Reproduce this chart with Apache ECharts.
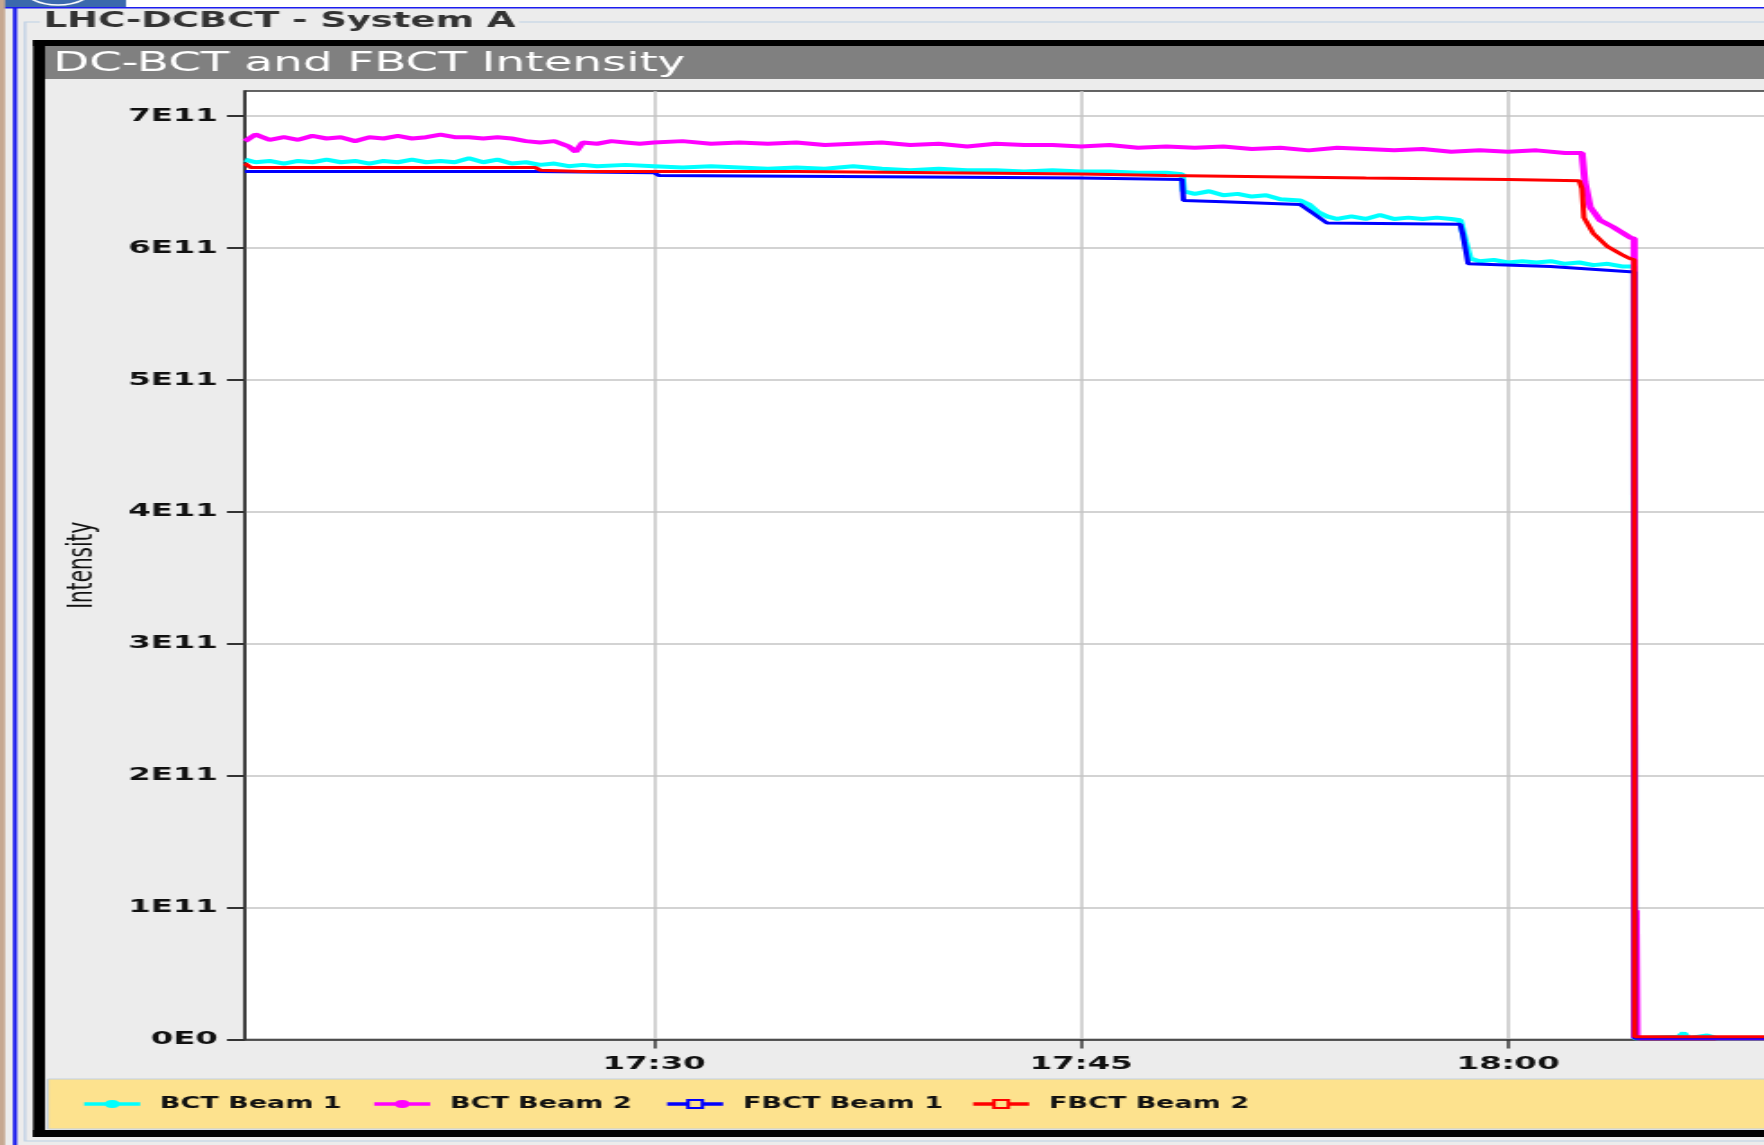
<!DOCTYPE html>
<html>
<head>
<meta charset="utf-8">
<title>LHC-DCBCT - System A</title>
<script src="https://cdn.jsdelivr.net/npm/echarts@6/dist/echarts.min.js"></script>
<style>
  html, body { margin: 0; padding: 0; width: 1764px; height: 1145px; overflow: hidden; background: #ececec; }
  /* the screenshot is stretched sideways, so draw narrow and stretch the div */
  #main { width: 1100px; height: 1145px; transform: scaleX(1.8); transform-origin: 0 0; }
</style>
</head>
<body>
<div id="main"></div>
<script>
var SX = 1.8;
function px(x) { return x / SX; }   // screen x -> chart x

var seriesNames = ['BCT Beam 1', 'BCT Beam 2', 'FBCT Beam 1', 'FBCT Beam 2'];
var seriesColors = ['#00ffff', '#ff00ff', '#0000ff', '#ff0000'];
var yTicks = [0, 1, 2, 3, 4, 5, 6, 7];          // x 1E11
var xTicks = ['17:30', '17:45', '18:00'];
var xStart = '17:15:38';
var xEnd = '18:15:00';

// intensities in units of 1E11
var bctBeam1 = [
  ['17:15:38', 6.67], ['17:16:00', 6.65], ['17:16:30', 6.66], ['17:17:00', 6.64], ['17:17:30', 6.66],
  ['17:18:00', 6.65], ['17:18:30', 6.67], ['17:19:00', 6.65], ['17:19:30', 6.66], ['17:20:00', 6.64],
  ['17:20:30', 6.66], ['17:21:00', 6.65], ['17:21:30', 6.67], ['17:22:00', 6.65], ['17:22:30', 6.66],
  ['17:23:00', 6.65], ['17:23:30', 6.68], ['17:24:00', 6.65], ['17:24:30', 6.67], ['17:25:00', 6.64],
  ['17:25:30', 6.65], ['17:26:00', 6.63], ['17:26:30', 6.64], ['17:27:00', 6.62], ['17:27:30', 6.63],
  ['17:28:00', 6.62], ['17:29:00', 6.63], ['17:30:00', 6.62], ['17:31:00', 6.61], ['17:32:00', 6.62],
  ['17:33:00', 6.61], ['17:34:00', 6.60], ['17:35:00', 6.61], ['17:36:00', 6.60], ['17:37:00', 6.62],
  ['17:38:00', 6.60], ['17:39:00', 6.59], ['17:40:00', 6.60], ['17:41:00', 6.59], ['17:42:00', 6.59],
  ['17:43:00', 6.58], ['17:44:00', 6.59], ['17:45:00', 6.58], ['17:46:00', 6.58], ['17:47:00', 6.57],
  ['17:48:00', 6.57], ['17:48:33', 6.56], ['17:48:36', 6.43], ['17:49:00', 6.41], ['17:49:30', 6.43],
  ['17:50:00', 6.40], ['17:50:30', 6.41], ['17:51:00', 6.39], ['17:51:30', 6.40], ['17:52:00', 6.37],
  ['17:52:42', 6.36], ['17:53:00', 6.33], ['17:53:20', 6.27], ['17:53:38', 6.24], ['17:54:00', 6.22],
  ['17:54:30', 6.24], ['17:55:00', 6.22], ['17:55:30', 6.25], ['17:56:00', 6.22], ['17:56:30', 6.23],
  ['17:57:00', 6.22], ['17:57:30', 6.23], ['17:58:00', 6.22], ['17:58:19', 6.21], ['17:58:30', 6.05],
  ['17:58:40', 5.92], ['17:59:00', 5.90], ['17:59:30', 5.91], ['18:00:00', 5.89], ['18:00:30', 5.90],
  ['18:01:00', 5.89], ['18:01:30', 5.90], ['18:02:00', 5.88], ['18:02:30', 5.89], ['18:03:00', 5.87],
  ['18:03:30', 5.88], ['18:04:00', 5.86], ['18:04:26', 5.86], ['18:04:27', 0.01], ['18:06:00', 0.02],
  ['18:06:10', 0.05], ['18:06:20', 0.01], ['18:07:00', 0.03], ['18:07:20', 0.01], ['18:15:00', 0.01]
];
var bctBeam2 = [
  ['17:15:38', 6.81], ['17:16:00', 6.86], ['17:16:30', 6.82], ['17:17:00', 6.84], ['17:17:30', 6.82],
  ['17:18:00', 6.85], ['17:18:30', 6.83], ['17:19:00', 6.84], ['17:19:30', 6.81], ['17:20:00', 6.84],
  ['17:20:30', 6.83], ['17:21:00', 6.85], ['17:21:30', 6.83], ['17:22:00', 6.84], ['17:22:30', 6.86],
  ['17:23:00', 6.84], ['17:23:30', 6.84], ['17:24:00', 6.83], ['17:24:30', 6.84], ['17:25:00', 6.83],
  ['17:25:30', 6.81], ['17:26:00', 6.80], ['17:26:30', 6.81], ['17:27:00', 6.77], ['17:27:15', 6.73],
  ['17:27:30', 6.80], ['17:28:00', 6.79], ['17:28:30', 6.81], ['17:29:00', 6.80], ['17:29:30', 6.79],
  ['17:30:00', 6.80], ['17:31:00', 6.81], ['17:32:00', 6.79], ['17:33:00', 6.80], ['17:34:00', 6.79],
  ['17:35:00', 6.80], ['17:36:00', 6.78], ['17:37:00', 6.79], ['17:38:00', 6.80], ['17:39:00', 6.78],
  ['17:40:00', 6.79], ['17:41:00', 6.77], ['17:42:00', 6.79], ['17:43:00', 6.78], ['17:44:00', 6.78],
  ['17:45:00', 6.77], ['17:46:00', 6.78], ['17:47:00', 6.76], ['17:48:00', 6.77], ['17:49:00', 6.76],
  ['17:50:00', 6.77], ['17:51:00', 6.75], ['17:52:00', 6.76], ['17:53:00', 6.74], ['17:54:00', 6.76],
  ['17:55:00', 6.75], ['17:56:00', 6.74], ['17:57:00', 6.75], ['17:58:00', 6.73], ['17:59:00', 6.74],
  ['18:00:00', 6.73], ['18:01:00', 6.74], ['18:02:00', 6.72], ['18:02:36', 6.72], ['18:02:42', 6.50],
  ['18:02:53', 6.31], ['18:03:14', 6.21], ['18:03:41', 6.16], ['18:04:17', 6.08], ['18:04:26', 6.07],
  ['18:04:27', 0.01], ['18:04:30', 0.98], ['18:04:32', 0.01], ['18:15:00', 0.01]
];
var fbctBeam1 = [
  ['17:15:38', 6.58], ['17:25:50', 6.58], ['17:25:55', 6.57], ['17:30:00', 6.57], ['17:30:10', 6.55],
  ['17:38:00', 6.54], ['17:45:00', 6.53], ['17:48:33', 6.52], ['17:48:36', 6.36], ['17:50:00', 6.35],
  ['17:52:42', 6.33], ['17:53:10', 6.26], ['17:53:38', 6.19], ['17:58:19', 6.18], ['17:58:25', 6.10],
  ['17:58:36', 5.88], ['18:01:30', 5.86], ['18:04:17', 5.82], ['18:04:26', 5.82], ['18:04:27', 0.01],
  ['18:15:00', 0.01]
];
var fbctBeam2 = [
  ['17:15:38', 6.64], ['17:15:50', 6.61], ['17:25:50', 6.61], ['17:26:00', 6.59], ['17:27:30', 6.58],
  ['17:35:00', 6.58], ['17:40:00', 6.57], ['17:45:00', 6.56], ['17:48:00', 6.55], ['17:55:00', 6.53],
  ['18:00:00', 6.52], ['18:02:30', 6.51], ['18:02:36', 6.45], ['18:02:40', 6.23], ['18:03:00', 6.11],
  ['18:03:30', 6.01], ['18:04:00', 5.95], ['18:04:17', 5.92], ['18:04:26', 5.91], ['18:04:27', 0.02],
  ['18:15:00', 0.02]
];

function toMin(t) {
  var p = t.split(':');
  return +p[0] * 60 + +p[1] + (p[2] ? +p[2] / 60 : 0);
}
function fmtMin(v) {
  var h = Math.floor(v / 60), m = Math.round(v - h * 60);
  return h + ':' + (m < 10 ? '0' : '') + m;
}

var allData = [bctBeam1, bctBeam2, fbctBeam1, fbctBeam2];
var symbols = ['circle', 'circle', 'rect', 'rect'];
var lineWidths = [4, 4, 3, 3];
var legendLeft = [81, 371, 664, 970];   // screen px

var frame = [
  // strip of the window above
  { type: 'rect', shape: { x: 0, y: 0, width: 1100, height: 7 }, style: { fill: '#ffffff' } },
  { type: 'rect', shape: { x: 0, y: 0, width: px(126), height: 7 }, style: { fill: '#3b69ad' } },
  { type: 'circle', shape: { cx: px(58), cy: -16, r: 21 }, style: { fill: 'none', stroke: '#ffffff', lineWidth: 1.5 } },
  { type: 'rect', shape: { x: 0, y: 7, width: 1100, height: 1.5 }, style: { fill: '#1c1cf0' } },
  // left window edge
  { type: 'rect', shape: { x: 0, y: 0, width: px(5), height: 1145 }, style: { fill: '#c6a891' } },
  { type: 'rect', shape: { x: px(13), y: 8, width: px(4), height: 1137 }, style: { fill: '#1a1aee' } },
  // titled border
  { type: 'rect', shape: { x: px(25), y: 22, width: 1200, height: 1119 }, style: { fill: 'none', stroke: '#bccfe4', lineWidth: 1.2 } },
  { type: 'text', x: px(40), y: 22, style: { text: 'LHC-DCBCT - System A', fontFamily: 'DejaVu Sans', fontWeight: 'bold', fontSize: 20.5, fill: '#333333', backgroundColor: '#ececec', padding: [0, 2], verticalAlign: 'middle' } },
  // black panel with grey title bar
  { type: 'rect', shape: { x: px(33), y: 40, width: 1200, height: 6 }, style: { fill: '#000000' } },
  { type: 'rect', shape: { x: px(33), y: 40, width: px(12), height: 1097 }, style: { fill: '#000000' } },
  { type: 'rect', shape: { x: px(33), y: 1130, width: 1200, height: 7 }, style: { fill: '#000000' } },
  { type: 'rect', shape: { x: px(45), y: 46, width: 1200, height: 33 }, style: { fill: '#808080' } },
  { type: 'text', x: px(53), y: 64, style: { text: 'DC-BCT and FBCT Intensity', fontFamily: 'DejaVu Sans', fontSize: 26, fill: '#ffffff', verticalAlign: 'middle' } },
  // legend band
  { type: 'rect', shape: { x: px(48), y: 1079, width: 1200, height: 50 }, style: { fill: '#fde28e', stroke: '#c3d0de', lineWidth: 1 } }
];

var myChart = echarts.init(document.getElementById('main'));

myChart.setOption({
  animation: false,
  backgroundColor: '#ececec',
  textStyle: { fontFamily: 'DejaVu Sans' },
  graphic: frame,
  legend: seriesNames.map(function (name, i) {
    return {
      data: [name],
      left: px(legendLeft[i]),
      top: 1094,
      padding: 0,
      itemWidth: px(56),
      itemHeight: 10,
      selectedMode: false,
      lineStyle: { width: 3.5 },
      textStyle: { fontFamily: 'DejaVu Sans', fontWeight: 'bold', fontSize: 15, color: '#111111', lineHeight: 20, padding: [0, 0, 0, 6] }
    };
  }),
  grid: {
    left: px(245), right: 25, top: 91, bottom: 105.5,
    show: true, backgroundColor: '#ffffff', borderColor: '#333333', borderWidth: 1.5
  },
  xAxis: {
    type: 'value',
    min: toMin(xStart),
    max: toMin(xEnd),
    axisLine: { lineStyle: { color: '#333333', width: 1.5 } },
    axisTick: { customValues: xTicks.map(toMin), length: 9, lineStyle: { color: '#333333', width: 1.5 } },
    axisLabel: {
      customValues: xTicks.map(toMin),
      formatter: fmtMin,
      margin: 16,
      fontFamily: 'DejaVu Sans', fontWeight: 'bold', fontSize: 18, color: '#111111'
    },
    splitLine: { show: true, lineStyle: { color: '#c4c4c4', width: 1.5 } }
  },
  yAxis: {
    type: 'value',
    min: 0,
    max: 7.19,
    interval: 1,
    name: 'Intensity',
    nameLocation: 'middle',
    nameGap: 80,
    nameTextStyle: { fontFamily: 'DejaVu Sans', fontSize: 20, color: '#111111' },
    axisLine: { show: true, lineStyle: { color: '#333333', width: 1.5 } },
    axisTick: { show: true, customValues: yTicks, length: 10, lineStyle: { color: '#333333', width: 2 } },
    axisLabel: {
      customValues: yTicks,
      formatter: function (v) { return v === 0 ? '0E0' : v + 'E11'; },
      margin: 15,
      fontFamily: 'DejaVu Sans', fontWeight: 'bold', fontSize: 18, color: '#111111'
    },
    splitLine: { show: true, lineStyle: { color: '#c4c4c4', width: 1.5 } }
  },
  series: seriesNames.map(function (name, i) {
    return {
      name: name,
      type: 'line',
      data: allData[i].map(function (d) { return [toMin(d[0]), d[1]]; }),
      showSymbol: false,
      symbol: symbols[i],
      symbolSize: 7,
      lineStyle: { color: seriesColors[i], width: lineWidths[i] },
      itemStyle: symbols[i] === 'rect'
        ? { color: '#fde28e', borderColor: seriesColors[i], borderWidth: 1.5 }
        : { color: seriesColors[i] },
      emphasis: { disabled: true }
    };
  })
});
</script>
</body>
</html>
